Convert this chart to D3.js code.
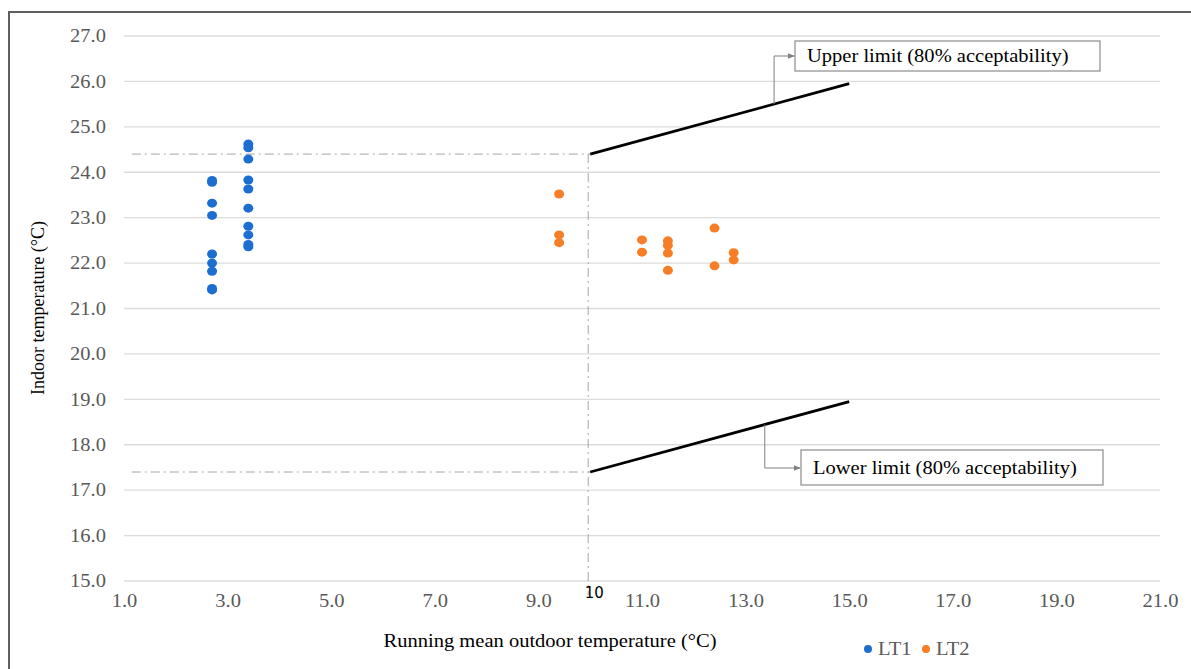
<!DOCTYPE html>
<html>
<head>
<meta charset="utf-8">
<script src="https://cdn.jsdelivr.net/npm/d3@7"></script>
<style>
  body { margin: 0; background: #fff; }
  svg { display: block; }
</style>
</head>
<body>
<div id="chart"></div>
<script>
const width = 1191;
const height = 669;

// LT1 (blue) readings
const lt1Outdoor = [2.7, 2.7, 2.7, 2.7, 2.7, 2.7, 2.7, 2.7, 2.7,
                    3.4, 3.4, 3.4, 3.4, 3.4, 3.4, 3.4, 3.4, 3.4, 3.4]
const lt1Indoor = [23.82, 23.78, 23.32, 23.05, 22.2, 22.0, 21.82, 21.44, 21.41,
                   24.62, 24.54, 24.29, 23.83, 23.63, 23.21, 22.81, 22.62, 22.41, 22.36]

// LT2 (orange) readings
const lt2Outdoor = [9.4, 9.4, 9.4, 11.0, 11.0, 11.5, 11.5, 11.5, 11.5, 12.4, 12.4, 12.77, 12.77]
const lt2Indoor = [23.52, 22.62, 22.45, 22.51, 22.24, 22.49, 22.39, 22.22, 21.84, 22.77, 21.94, 22.23, 22.07]

// 80% acceptability limits
const limitX = [10, 15]
const upperLimit = [24.4, 25.95]
const lowerLimit = [17.4, 18.95]

const xTicks = [1, 3, 5, 7, 9, 11, 13, 15, 17, 19, 21]
const yTicks = [15, 16, 17, 18, 19, 20, 21, 22, 23, 24, 25, 26, 27]

const blue = "#1c6fd1"
const orange = "#f77d26"
const serif = "Liberation Serif, Times New Roman, serif"
const stretch = 1.14   // the source picture is a little wider than tall

const svg = d3.select("#chart").append("svg").attr("width", width).attr("height", height)

const x = d3.scaleLinear().domain([1, 21]).range([124, 1160])
const y = d3.scaleLinear().domain([15, 27]).range([581, 36])

// horizontal text, widened like the source
function label(px, py, str, anchor, fill) {
    return svg.append("text")
              .attr("transform", `translate(${px},${py}) scale(${stretch},1)`)
              .attr("text-anchor", anchor)
              .style("font-family", serif)
              .style("font-size", "18px")
              .attr("fill", fill)
              .text(str)
}

// frame
svg.append("path")
   .attr("d", `M9,${height} L9,12 L${width},12`)
   .attr("fill", "none")
   .attr("stroke", "#5f5f5f")
   .attr("stroke-width", 2)

// gridlines
svg.append("g")
   .selectAll("line")
   .data(yTicks)
   .enter()
   .append("line")
   .attr("x1", x(1))
   .attr("x2", x(21))
   .attr("y1", d => y(d))
   .attr("y2", d => y(d))
   .attr("stroke", "#dcdcdc")
   .attr("stroke-width", 1.3)

// y axis labels
const gy = svg.append("g")
              .attr("transform", "translate(106,0)")
              .call(d3.axisLeft(y).tickValues(yTicks).tickFormat(d3.format(".1f")).tickSize(0).tickPadding(0))
gy.select(".domain").remove()
gy.selectAll("text")
  .attr("x", null)
  .attr("transform", `scale(${stretch},1)`)
  .style("font-family", serif)
  .style("font-size", "18px")
  .attr("fill", "#595959")

// x axis labels
const gx = svg.append("g")
              .attr("transform", "translate(0,590)")
              .call(d3.axisBottom(x).tickValues(xTicks).tickFormat(d3.format(".1f")).tickSize(0).tickPadding(4))
gx.select(".domain").remove()
gx.selectAll("text")
  .attr("transform", `scale(${stretch},1)`)
  .style("font-family", serif)
  .style("font-size", "18px")
  .attr("fill", "#595959")

// dash-dot guides
const guide = svg.append("g")
                 .attr("fill", "none")
                 .attr("stroke", "#a6a6a6")
                 .attr("stroke-width", 1)
                 .attr("stroke-dasharray", "9,4,2,4")

guide.append("line")
     .attr("x1", x(1.15)).attr("x2", x(limitX[0]))
     .attr("y1", y(upperLimit[0])).attr("y2", y(upperLimit[0]))
guide.append("line")
     .attr("x1", x(1.15)).attr("x2", x(limitX[0]))
     .attr("y1", y(lowerLimit[0])).attr("y2", y(lowerLimit[0]))
guide.append("line")
     .attr("x1", x(limitX[0]) - 2).attr("x2", x(limitX[0]) - 2)
     .attr("y1", y(upperLimit[0])).attr("y2", y(15) + 14)

// limit lines
const line = d3.line().x(d => x(d[0])).y(d => y(d[1]))
svg.append("path")
   .attr("d", line(d3.zip(limitX, upperLimit)))
   .attr("fill", "none").attr("stroke", "black").attr("stroke-width", 2.8)
svg.append("path")
   .attr("d", line(d3.zip(limitX, lowerLimit)))
   .attr("fill", "none").attr("stroke", "black").attr("stroke-width", 2.8)

svg.append("text")
   .attr("x", x(limitX[0]) + 4)
   .attr("y", 598)
   .attr("text-anchor", "middle")
   .style("font-family", "DejaVu Sans, sans-serif")
   .style("font-size", "15px")
   .text("10")

// points
svg.append("g")
   .selectAll("ellipse")
   .data(d3.zip(lt1Outdoor, lt1Indoor))
   .enter()
   .append("ellipse")
   .attr("cx", d => x(d[0]))
   .attr("cy", d => y(d[1]))
   .attr("rx", 5)
   .attr("ry", 4.5)
   .attr("fill", blue)

svg.append("g")
   .selectAll("ellipse")
   .data(d3.zip(lt2Outdoor, lt2Indoor))
   .enter()
   .append("ellipse")
   .attr("cx", d => x(d[0]))
   .attr("cy", d => y(d[1]))
   .attr("rx", 5)
   .attr("ry", 4.5)
   .attr("fill", orange)

// callouts
const defs = svg.append("defs")
defs.append("marker")
    .attr("id", "arrow")
    .attr("viewBox", "0 0 10 10")
    .attr("refX", 9).attr("refY", 5)
    .attr("markerWidth", 7).attr("markerHeight", 7)
    .attr("orient", "auto")
    .append("path")
    .attr("d", "M0,1 L10,5 L0,9 Z")
    .attr("fill", "#808080")

function callout(anchorX, limitVals, elbowY, boxX, boxY, boxW, boxH, text) {
    const t = (anchorX - limitX[0]) / (limitX[1] - limitX[0])
    const ay = y(limitVals[0] + t * (limitVals[1] - limitVals[0]))
    const ax = x(anchorX)
    svg.append("path")
       .attr("d", `M${ax},${ay} L${ax},${elbowY} L${boxX - 1},${elbowY}`)
       .attr("fill", "none")
       .attr("stroke", "#808080")
       .attr("stroke-width", 1)
       .attr("marker-end", "url(#arrow)")
    svg.append("rect")
       .attr("x", boxX).attr("y", boxY)
       .attr("width", boxW).attr("height", boxH)
       .attr("fill", "white")
       .attr("stroke", "#8c8c8c")
       .attr("stroke-width", 1.2)
    label(boxX + 12, boxY + boxH / 2 + 6, text, "start", "black")
}

callout(13.55, upperLimit, 56, 795, 41, 305, 30, "Upper limit (80% acceptability)")
callout(13.37, lowerLimit, 468, 801, 450, 302, 35, "Lower limit (80% acceptability)")

// axis titles
svg.append("text")
   .attr("transform", "translate(44,308) rotate(-90)")
   .attr("text-anchor", "middle")
   .style("font-family", serif)
   .style("font-size", "18px")
   .text("Indoor temperature (°C)")

label(550, 647, "Running mean outdoor temperature (°C)", "middle", "black")

// legend
const legendItems = [{ name: "LT1", color: blue, dx: 0 }, { name: "LT2", color: orange, dx: 58 }]
legendItems.forEach(item => {
    svg.append("circle").attr("cx", 868 + item.dx).attr("cy", 649).attr("r", 4).attr("fill", item.color)
    label(878 + item.dx, 655, item.name, "start", "#595959")
})
</script>
</body>
</html>
